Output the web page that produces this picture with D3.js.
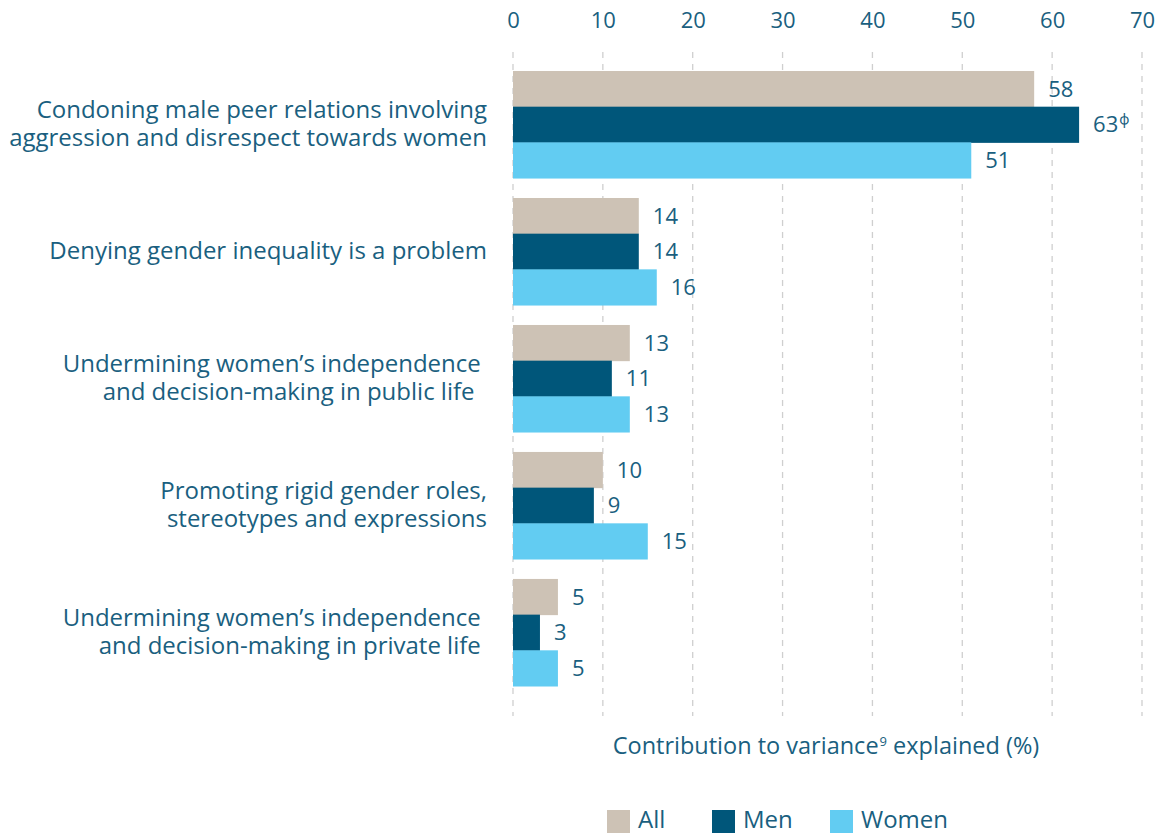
<!DOCTYPE html>
<html>
<head>
<meta charset="utf-8">
<script src="https://cdn.jsdelivr.net/npm/d3@7/dist/d3.min.js"></script>
<style>
  html, body { margin: 0; padding: 0; background: #fff; }
  svg { display: block; font-family: "Open Sans", "Noto Sans", sans-serif; }
  text { fill: #1a5f80; }
</style>
</head>
<body>
<svg id="chart" width="1162" height="834"></svg>
<script>
// Category labels (line by line), series and values
const categories = [
  ["Condoning male peer relations involving", "aggression and disrespect towards women"],
  ["Denying gender inequality is a problem"],
  ["Undermining women\u2019s independence\u00A0", "and decision-making in public life\u00A0\u00A0"],
  ["Promoting rigid gender roles,", "stereotypes and expressions"],
  ["Undermining women\u2019s independence\u00A0", "and decision-making in private life\u00A0"]
];
const seriesNames = ["All", "Men", "Women"];
const seriesColors = ["#cdc2b5", "#00567a", "#62ccf2"];
const allValues = [58, 14, 13, 10, 5];
const menValues = [63, 14, 11, 9, 3];
const womenValues = [51, 16, 13, 15, 5];
const valueNotes = [["", "\u03D5", ""], ["", "", ""], ["", "", ""], ["", "", ""], ["", "", ""]];
const tickValues = [0, 10, 20, 30, 40, 50, 60, 70];
const axisTitle = "Contribution to variance";
const axisTitleSup = "9";
const axisTitleEnd = " explained (%)";

const svg = d3.select("#chart");
const seriesValues = [allValues, menValues, womenValues];

const x = d3.scaleLinear().domain([0, 70]).range([513, 1142]);
const y = d3.scaleBand().domain(d3.range(categories.length)).range([71, 686]).paddingInner(0.157).paddingOuter(0);
const ySub = d3.scaleBand().domain(d3.range(seriesNames.length)).range([0, y.bandwidth()]);
const color = d3.scaleOrdinal().domain(seriesNames).range(seriesColors);

// dashed vertical gridlines
svg.append("g").selectAll("line").data(tickValues).join("line")
  .attr("x1", d => x(d)).attr("x2", d => x(d))
  .attr("y1", 52).attr("y2", 716)
  .attr("stroke", "#cfcfcf").attr("stroke-width", 1.3)
  .attr("stroke-dasharray", "6,6");

// top axis labels
const axis = d3.axisTop(x).tickValues(tickValues).tickSize(0).tickPadding(0);
const gAxis = svg.append("g").attr("transform", "translate(0,28)").call(axis);
gAxis.select(".domain").remove();
gAxis.selectAll("text").attr("font-size", 22).attr("font-family", "'Open Sans', sans-serif").style("fill", "#1a5f80");

// bars
const groups = svg.append("g").selectAll("g").data(categories).join("g")
  .attr("transform", (d, i) => `translate(0,${y(i)})`);

groups.each(function (cat, i) {
  const g = d3.select(this);
  const rows = seriesNames.map((s, j) => ({ s, j, v: seriesValues[j][i], note: valueNotes[i][j] }));
  g.selectAll("rect").data(rows).join("rect")
    .attr("x", x(0))
    .attr("y", d => ySub(d.j))
    .attr("width", d => x(d.v) - x(0))
    .attr("height", ySub.bandwidth() + 0.5)
    .attr("fill", d => color(d.s));
  const labels = g.selectAll("text.val").data(rows).join("text")
    .attr("class", "val")
    .attr("x", d => x(d.v) + 14)
    .attr("y", d => ySub(d.j) + ySub.bandwidth() / 2)
    .attr("dy", "0.36em")
    .attr("font-size", 22);
  labels.append("tspan").text(d => d.v);
  labels.filter(d => d.note).append("tspan")
    .attr("font-size", 14).attr("dy", -8).attr("dx", 1)
    .text(d => d.note);

  // category label
  const lineH = 28.5;
  const cy = y.bandwidth() / 2 - 1;
  const t = g.append("text")
    .attr("text-anchor", "end")
    .attr("font-size", 24)
    .style("white-space", "pre");
  cat.forEach((line, k) => {
    t.append("tspan")
      .attr("x", 487)
      .attr("y", cy + (k - (cat.length - 1) / 2) * lineH)
      .attr("dy", "0.36em")
      .text(line);
  });
});

// axis title
const title = svg.append("text")
  .attr("x", 826).attr("y", 746).attr("dy", "0.36em")
  .attr("text-anchor", "middle").attr("font-size", 23.5);
title.append("tspan").text(axisTitle);
title.append("tspan").attr("font-size", 13).attr("dy", -8).attr("dx", 1).text(axisTitleSup);
title.append("tspan").attr("dy", 8).text(axisTitleEnd);

// legend
const legendX = [607, 712, 830];
const legend = svg.append("g").selectAll("g").data(seriesNames).join("g")
  .attr("transform", (d, i) => `translate(${legendX[i]},810)`);
legend.append("rect").attr("width", 23).attr("height", 23).attr("fill", d => color(d));
legend.append("text").attr("x", 31).attr("y", 9).attr("dy", "0.36em")
  .attr("font-size", 24).text(d => d);
</script>
</body>
</html>
